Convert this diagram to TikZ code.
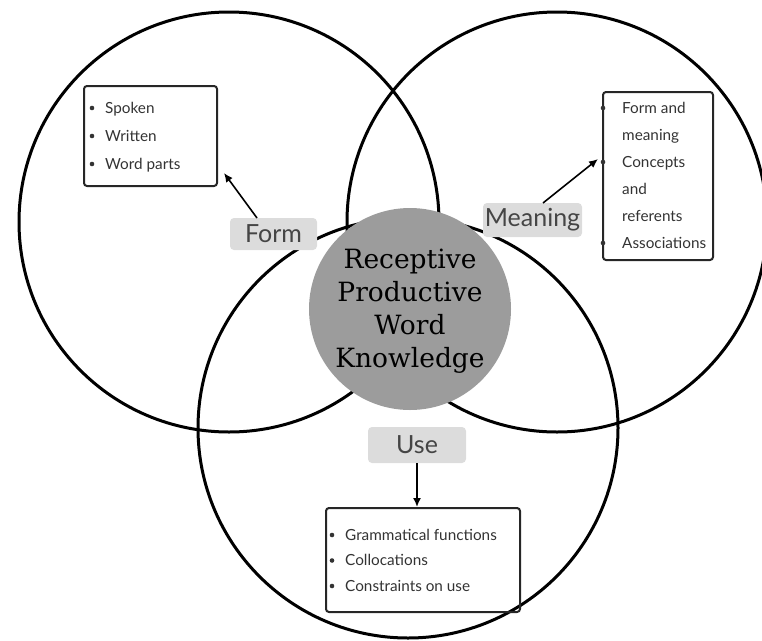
\documentclass[tikz,border=0pt]{standalone}
\usepackage{fontspec}
\newfontfamily\lato{Lato}
\newfontfamily\ctrfont{DejaVu Serif}
\usetikzlibrary{arrows.meta}
\definecolor{hubgray}{HTML}{9C9C9C}
\definecolor{labfill}{HTML}{DCDCDC}
\definecolor{labtext}{HTML}{454545}
\definecolor{listtext}{HTML}{333333}
\newcommand{\bitem}[5]{%
  \node[dot] (#1d) at (#2,#4-5) {};
  \node[item] (#1t) at (#3,#4) {#5};}
\begin{document}
\begin{tikzpicture}[x=1pt,y=-1pt,
  ring/.style={draw=black,line width=3pt},
  hub/.style={circle,fill=hubgray,minimum size=202pt,inner sep=0pt},
  tag/.style={fill=labfill,rounded corners=4pt,inner sep=0pt,font=\lato\fontsize{25}{25}\selectfont,text=labtext},
  listbox/.style={draw=black!85,line width=2pt,rounded corners=3pt,inner sep=0pt},
  item/.style={anchor=base west,inner sep=0pt,font=\lato\fontsize{15.3}{15.3}\selectfont,text=listtext},
  dot/.style={circle,fill=listtext,inner sep=0pt,minimum size=4.6pt},
  arr/.style={line width=1.6pt,-{Latex[length=9pt,width=8pt]}}]
\useasboundingbox (0,0) rectangle (762,640);
\clip (0,0) rectangle (762,640);
% rings
\draw[ring] (229,222) circle[radius=210pt];
\draw[ring] (557,222) circle[radius=210pt];
\draw[ring] (408,428) circle[radius=210pt];
% hub
\node[hub] (hub) at (410,309) {};
\node[inner sep=0pt,align=center,font=\ctrfont\fontsize{26.5}{33}\selectfont,text=black] (hubtext) at (410,311) {Receptive\\Productive\\Word\\Knowledge};
% labels
\node[tag,minimum width=87pt,minimum height=32pt] (form) at (273.5,234) {Form};
\node[tag,minimum width=99pt,minimum height=34pt] (meaning) at (532.5,220) {Meaning};
\node[tag,minimum width=98pt,minimum height=36pt] (use) at (417,445) {Use};
% boxes
\node[listbox,minimum width=133pt,minimum height=100pt] (formbox) at (150.5,136) {};
\node[listbox,minimum width=110pt,minimum height=168pt] (meanbox) at (658,176) {};
\node[listbox,minimum width=194pt,minimum height=104pt] (usebox) at (423,560) {};
% items
\bitem{f1}{92}{105}{113}{Spoken}
\bitem{f2}{92}{105}{141}{Written}
\bitem{f3}{92}{105}{169}{Word parts}
\bitem{m1}{603}{622}{113}{Form and}
\node[item] (m2t) at (622,140) {meaning};
\bitem{m3}{603}{622}{167}{Concepts}
\node[item] (m4t) at (622,194) {and};
\node[item] (m5t) at (622,221) {referents};
\bitem{m6}{603}{622}{248}{Associations}
\bitem{u1}{332}{345}{540}{Grammatical functions}
\bitem{u2}{332}{345}{565.5}{Collocations}
\bitem{u3}{332}{345}{591}{Constraints on use}
% arrows
\coordinate (formtail) at (257,218);
\coordinate (formtip) at (224,173);
\coordinate (meantail) at (543,203);
\coordinate (meantip) at (598,159);
\draw[arr] (formtail) -- (formtip);
\draw[arr] (meantail) -- (meantip);
\draw[arr] (use.south) -- (use.south |- usebox.north);
\end{tikzpicture}
\end{document}
